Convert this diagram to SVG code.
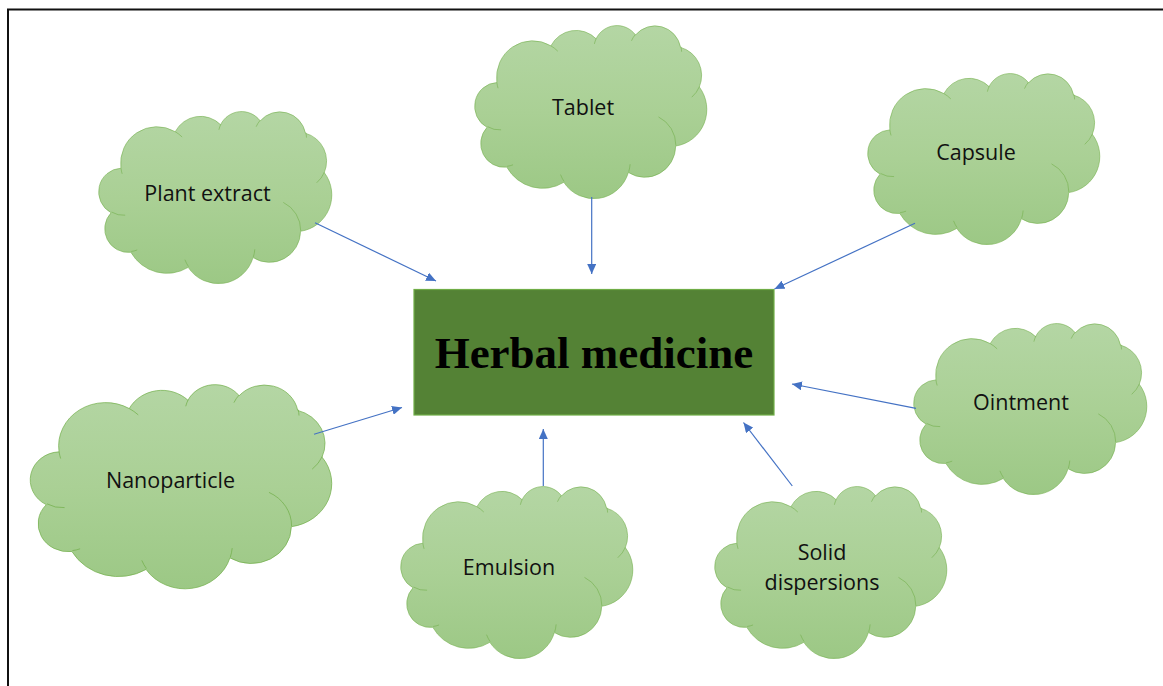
<svg xmlns="http://www.w3.org/2000/svg" xmlns:xlink="http://www.w3.org/1999/xlink" width="1163" height="686" viewBox="0 0 1163 686">
  <style>
    .cloud { fill: url(#cloudGrad); stroke: #70AD47; stroke-width: 1.2; vector-effect: non-scaling-stroke; }
    .hook { fill: none; stroke: #70AD47; stroke-width: 1.2; vector-effect: non-scaling-stroke; }
    .lbl { font-family: "Open Sans", "Liberation Sans", sans-serif; font-size: 21.5px; fill: #111; text-anchor: middle; }
    .conn { stroke: #4472C4; stroke-width: 1.2; fill: none; marker-end: url(#arrow); }
    .title { font-family: "Liberation Serif", "Times New Roman", serif; font-weight: bold; font-size: 45px; fill: #000; text-anchor: middle; }
  </style>
  <defs>
    <linearGradient id="cloudGrad" x1="0" y1="0" x2="0" y2="1">
      <stop offset="0" stop-color="#B4D6A4"/>
      <stop offset="0.5" stop-color="#AAD095"/>
      <stop offset="1" stop-color="#9CC885"/>
    </linearGradient>
    <marker id="arrow" markerUnits="userSpaceOnUse" markerWidth="11" markerHeight="9" refX="10" refY="4.5" orient="auto">
      <path d="M0,0 L10,4.5 L0,9 Z" fill="#4472C4"/>
    </marker>
    <path id="cloudShape" d="M39.00,143.70 A67.53,91.90 0 0 1 140.05,52.02 A53.33,72.67 0 0 1 224.56,34.33 A43.65,59.45 0 0 1 298.33,24.82 A48.57,65.95 0 0 1 382.65,55.89 A53.33,72.73 0 0 1 417.65,154.73 A67.75,92.20 0 0 1 373.51,302.15 A57.85,78.67 0 0 1 285.02,368.25 A67.52,92.15 0 0 1 164.26,392.77 A77.20,105.43 0 0 1 57.50,354.83 A43.60,59.18 0 0 1 20.58,255.61 A43.45,59.45 0 0 1 39.00,143.70 Z"/>
    <path id="cloudHooks" d="M46.93,261.77 A43.45,59.45 0 0 1 21.59,253.80 M69.28,348.99 A43.60,59.18 0 0 1 58.19,352.81 M164.78,390.90 A67.52,92.15 0 0 1 158.10,373.49 M288.27,347.51 A67.52,92.15 0 0 1 285.60,366.61 M341.29,229.54 A57.85,78.67 0 0 1 373.80,300.90 M417.98,153.54 A53.33,72.73 0 0 1 403.50,180.30 M383.24,54.26 A48.57,65.95 0 0 1 384.54,66.78 M290.78,39.52 A48.57,65.95 0 0 1 298.20,23.40 M221.41,47.20 A43.65,59.45 0 0 1 225.00,33.31 M140.00,51.92 A67.53,91.90 0 0 1 153.00,65.40 M41.27,157.89 A67.53,91.90 0 0 1 39.00,143.71"/>
  </defs>

  <rect x="0" y="0" width="1163" height="686" fill="#FFFFFF"/>
  <rect x="8" y="9.5" width="1180" height="720" fill="none" stroke="#111" stroke-width="2"/>

  <g id="plant-extract">
    <g transform="translate(100,111) scale(0.5370,0.3981)">
      <use xlink:href="#cloudShape" href="#cloudShape" class="cloud"/>
      <use xlink:href="#cloudHooks" href="#cloudHooks" class="hook"/>
    </g>
    <text class="lbl" x="207.5" y="201">Plant extract</text>
  </g>

  <g id="tablet">
    <g transform="translate(476,25) scale(0.5347,0.4005)">
      <use xlink:href="#cloudShape" href="#cloudShape" class="cloud"/>
      <use xlink:href="#cloudHooks" href="#cloudHooks" class="hook"/>
    </g>
    <text class="lbl" x="583" y="115">Tablet</text>
  </g>

  <g id="capsule">
    <g transform="translate(869,73) scale(0.5347,0.3958)">
      <use xlink:href="#cloudShape" href="#cloudShape" class="cloud"/>
      <use xlink:href="#cloudHooks" href="#cloudHooks" class="hook"/>
    </g>
    <text class="lbl" x="976" y="160">Capsule</text>
  </g>

  <g id="nanoparticle">
    <g transform="translate(32,384) scale(0.6944,0.4722)">
      <use xlink:href="#cloudShape" href="#cloudShape" class="cloud"/>
      <use xlink:href="#cloudHooks" href="#cloudHooks" class="hook"/>
    </g>
    <text class="lbl" x="170.5" y="488">Nanoparticle</text>
  </g>

  <g id="emulsion">
    <g transform="translate(402,486) scale(0.5347,0.3981)">
      <use xlink:href="#cloudShape" href="#cloudShape" class="cloud"/>
      <use xlink:href="#cloudHooks" href="#cloudHooks" class="hook"/>
    </g>
    <text class="lbl" x="509" y="575">Emulsion</text>
  </g>

  <g id="solid-dispersions">
    <g transform="translate(716,486) scale(0.5347,0.3981)">
      <use xlink:href="#cloudShape" href="#cloudShape" class="cloud"/>
      <use xlink:href="#cloudHooks" href="#cloudHooks" class="hook"/>
    </g>
    <text class="lbl" x="822" y="560">Solid</text>
    <text class="lbl" x="822" y="590">dispersions</text>
  </g>

  <g id="ointment">
    <g transform="translate(915,323) scale(0.5370,0.3958)">
      <use xlink:href="#cloudShape" href="#cloudShape" class="cloud"/>
      <use xlink:href="#cloudHooks" href="#cloudHooks" class="hook"/>
    </g>
    <text class="lbl" x="1021" y="410">Ointment</text>
  </g>

  <g id="herbal-medicine">
    <rect x="414" y="289.5" width="360" height="125.5" fill="#548235" stroke="#70AD47" stroke-width="1.2"/>
    <text class="title" x="594" y="368">Herbal medicine</text>
  </g>

  <g id="connectors">
    <line class="conn" x1="315" y1="222.7" x2="436" y2="281"/>
    <line class="conn" x1="591.7" y1="197" x2="591.7" y2="274"/>
    <line class="conn" x1="915" y1="223.3" x2="774.5" y2="289"/>
    <line class="conn" x1="314" y1="434.3" x2="402" y2="407.5"/>
    <line class="conn" x1="916" y1="408.3" x2="792" y2="384"/>
    <line class="conn" x1="543.3" y1="486" x2="543.3" y2="429"/>
    <line class="conn" x1="792.3" y1="486" x2="743.5" y2="422.5"/>
  </g>
</svg>
